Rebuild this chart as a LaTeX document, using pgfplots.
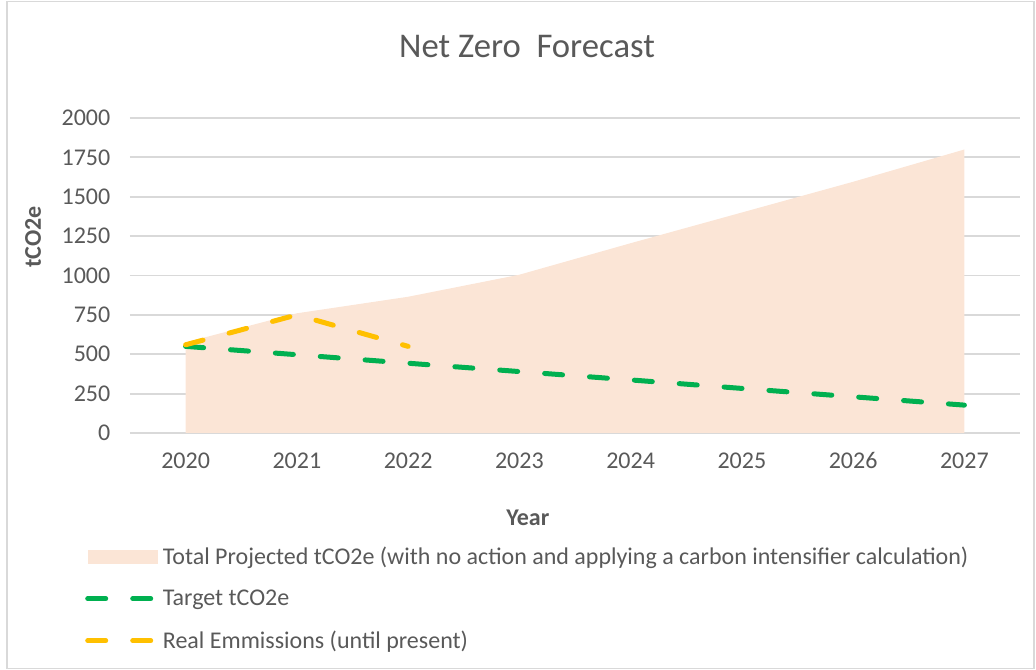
\documentclass[border=0pt]{standalone}
\usepackage{pgfplots}
\pgfplotsset{compat=1.18}
\usepackage{pgfplotstable}
\usepackage{fontspec}
\setmainfont{Carlito}
\definecolor{areac}{HTML}{FBE5D6}
\definecolor{greenc}{HTML}{00B050}
\definecolor{yellowc}{HTML}{FFC000}
\definecolor{txt}{HTML}{595959}
\definecolor{gridc}{HTML}{D9D9D9}
\pgfplotstableread{
year total
2020 575
2021 760
2022 865
2023 1005
2024 1205
2025 1400
2026 1595
2027 1800
}\totaldata
\pgfplotstableread{
year target
2020 550
2021 497
2022 443
2023 390
2024 337
2025 283
2026 230
2027 177
}\targetdata
\pgfplotstableread{
year real
2020 560
2021 750
2022 550
}\realdata
\begin{document}
\begin{tikzpicture}
\path[use as bounding box] (0,0) rectangle (777pt,502.5pt);
\draw[gridc, line width=1.2pt] (5.25pt,1pt) rectangle (775.5pt,501.5pt);
\node[txt, font=\fontsize{26}{30}\selectfont] at (395.25pt,467.25pt) {Net Zero\ \ Forecast};
\begin{axis}[
  at={(97.5pt,177.75pt)}, anchor=south west, scale only axis,
  width=667.5pt, height=236.25pt,
  xmin=2019.5, xmax=2027.5, ymin=0, ymax=2000,
  xtick={2020,2021,2022,2023,2024,2025,2026,2027},
  ytick={0,250,500,750,1000,1250,1500,1750,2000},
  /pgf/number format/assume math mode=true,
  /pgf/number format/set thousands separator={},
  ymajorgrids, grid style={gridc, line width=1.4pt},
  axis line style={draw=none},
  major tick length=0pt,
  tick label style={font=\fontsize{18}{21}\selectfont, text=txt},
  yticklabel style={anchor=east, xshift=-11.25pt},
  xticklabel style={anchor=north, yshift=-11.25pt},
  xlabel={Year}, ylabel={tCO2e},
  xlabel style={at={(axis description cs:0.447,-0.27)}, anchor=center, font=\fontsize{18}{21}\selectfont\bfseries, text=txt},
  ylabel style={at={(axis description cs:-0.109,0.622)}, anchor=center, font=\fontsize{18}{21}\selectfont\bfseries, text=txt},
  legend style={at={(axis description cs:-0.0506,-0.353)}, anchor=north west, draw=none, fill=none, inner sep=0pt, row sep=13.5pt, column sep=0pt, font=\fontsize{18}{21}\selectfont, text=txt},
  legend cell align=left,
]
\addplot[fill=areac, draw=none, legend image code/.code={\fill[areac] (0pt,-5pt) rectangle (52.5pt,5pt);}] table[x=year,y=total] {\totaldata} \closedcycle;
\addlegendentry{Total Projected tCO2e (with no action and applying a carbon intensifier calculation)}
\addplot[greenc, line width=3.75pt, line cap=round, dash pattern=on 13.5pt off 20.25pt, legend image code/.code={\draw[greenc, line width=3.75pt, line cap=round, dash pattern=on 13.5pt off 20.25pt] (0pt,0pt) -- (52.5pt,0pt);}] table[x=year,y=target] {\targetdata};
\addlegendentry{Target tCO2e}
\addplot[yellowc, line width=3.75pt, line cap=round, dash pattern=on 13.5pt off 20.25pt, legend image code/.code={\draw[yellowc, line width=3.75pt, line cap=round, dash pattern=on 13.5pt off 20.25pt] (0pt,0pt) -- (52.5pt,0pt);}] table[x=year,y=real] {\realdata};
\addlegendentry{Real Emmissions (until present)}
\end{axis}
\end{tikzpicture}
\end{document}
